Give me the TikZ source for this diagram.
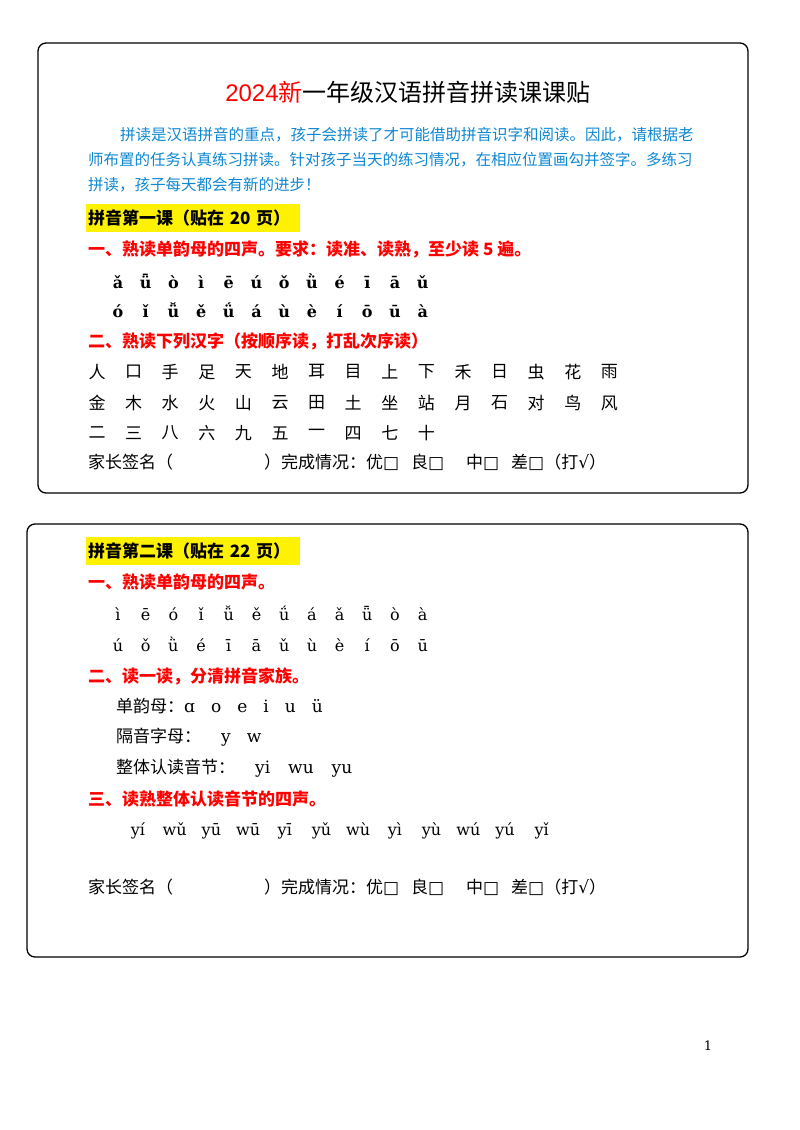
\documentclass[tikz,border=0pt]{standalone}
\usepackage{fontspec}
\setmainfont{Noto Sans CJK SC}
\newfontfamily\py{DejaVu Serif}
\newfontfamily\lat{Liberation Sans}
\begin{document}
\begin{tikzpicture}[x=1pt,y=-1pt,
 card/.style={draw,line width=1.3pt,rounded corners=8pt},
 txt/.style={anchor=west,inner sep=0,font=\fontsize{17}{20}\selectfont},
 para/.style={anchor=west,inner sep=0,text=cyan!70!blue,font=\fontsize{15.5}{18}\selectfont},
 red/.style={txt,text=red,font=\fontsize{17}{20}\selectfont\bfseries},
 hl/.style={anchor=west,fill=yellow,inner sep=0,minimum height=28,text width=214,align=left,font=\fontsize{17}{20}\selectfont\bfseries},
 pyb/.style={anchor=base,inner sep=0,font=\fontsize{16}{18}\selectfont\py\bfseries},
 pyn/.style={anchor=base,inner sep=0,font=\fontsize{16}{18}\selectfont\py},
 hz/.style={anchor=center,inner sep=0,font=\fontsize{17}{20}\selectfont}]
\useasboundingbox (0,0) rectangle (800,1130);
\fill[white] (0,0) rectangle (800,1130);
\draw[card] (38,43) rectangle (748,493);
\draw[card] (27,524) rectangle (748,957);
\node (title) at (408,92) {\fontsize{24}{28}\selectfont{\lat\textcolor{red}{2024}}\textcolor{red}{新}一年级汉语拼音拼读课课贴};
\node[para] (p1) at (120,135) {拼读是汉语拼音的重点，孩子会拼读了才可能借助拼音识字和阅读。因此，请根据老};
\node[para] (p2) at (88,160) {师布置的任务认真练习拼读。针对孩子当天的练习情况，在相应位置画勾并签字。多练习};
\node[para] (p3) at (88,185) {拼读，孩子每天都会有新的进步！};
\node[hl] (h1) at (86,218) {\hspace{2pt}拼音第一课（贴在 20 页）};
\node[red] (r1) at (88,249) {一、熟读单韵母的四声。要求：读准、读熟，至少读 5 遍。};
\foreach \s [count=\i from 0] in {ǎ,ǖ,ò,ì,ē,ú,ǒ,ǜ,é,ī,ā,ǔ} \node[pyb] (a\i) at (118+27.7*\i,288) {\s};
\foreach \s [count=\i from 0] in {ó,ǐ,ǚ,ě,ǘ,á,ù,è,í,ō,ū,à} \node[pyb] (b\i) at (118+27.7*\i,317) {\s};
\node[red] (r2) at (88,341) {二、熟读下列汉字（按顺序读，打乱次序读）};
\foreach \s [count=\i from 0] in {人,口,手,足,天,地,耳,目,上,下,禾,日,虫,花,雨} \node[hz] (c\i) at (97+36.6*\i,372) {\s};
\foreach \s [count=\i from 0] in {金,木,水,火,山,云,田,土,坐,站,月,石,对,鸟,风} \node[hz] (d\i) at (97+36.6*\i,403) {\s};
\foreach \s [count=\i from 0] in {二,三,八,六,九,五,一,四,七,十} \node[hz] (e\i) at (97+36.6*\i,433) {\s};
\foreach \y/\n in {462/s, 887/t}{
 \node[txt] (\n a) at (88,\y) {家长签名（};
 \node[txt] (\n b) at (264,\y) {）完成情况：优{\py□}};
 \node[txt] (\n c) at (411,\y) {良{\py□}};
 \node[txt] (\n d) at (466,\y) {中{\py□}};
 \node[txt] (\n e) at (511,\y) {差{\py□}（打{\py√}）};
}
\node[hl] (h2) at (86,551) {\hspace{2pt}拼音第二课（贴在 22 页）};
\node[red] (r3) at (88,582) {一、熟读单韵母的四声。};
\foreach \s [count=\i from 0] in {ì,ē,ó,ǐ,ǚ,ě,ǘ,á,ǎ,ǖ,ò,à} \node[pyn] (f\i) at (118+27.7*\i,620) {\s};
\foreach \s [count=\i from 0] in {ú,ǒ,ǜ,é,ī,ā,ǔ,ù,è,í,ō,ū} \node[pyn] (g\i) at (118+27.7*\i,651) {\s};
\node[red] (r4) at (88,676) {二、读一读，分清拼音家族。};
\node[txt] (l1) at (116,706) {单韵母：{\py ɑ\hspace{16pt}o\hspace{16pt}e\hspace{16pt}i\hspace{16pt}u\hspace{16pt}ü}};
\node[txt] (l2) at (116,737) {隔音字母：\hspace{20pt}{\py y\hspace{16pt}w}};
\node[txt] (l3) at (116,768) {整体认读音节：\hspace{20pt}{\py yi\hspace{18pt}wu\hspace{18pt}yu}};
\node[red] (r5) at (88,799) {三、读熟整体认读音节的四声。};
\foreach \s [count=\i from 0] in {yí,wǔ,yū,wū,yī,yǔ,wù,yì,yù,wú,yú,yǐ} \node[pyn] (k\i) at (138+36.7*\i,835) {\s};
\node[inner sep=0,font=\fontsize{13}{15}\selectfont\py] (pg) at (708,1046) {1};
\end{tikzpicture}
\end{document}
